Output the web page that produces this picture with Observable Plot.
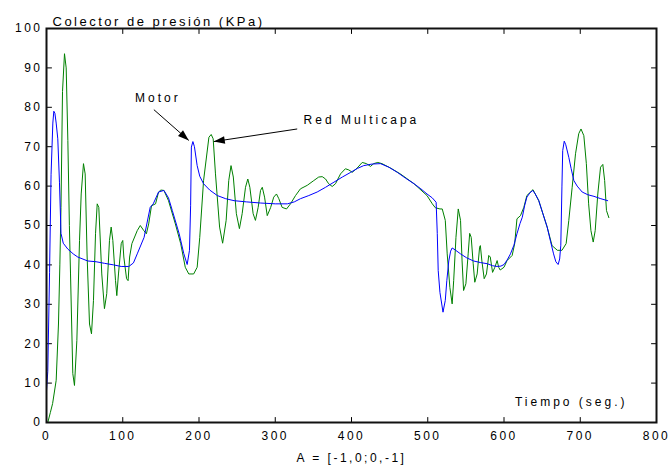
<!DOCTYPE html>
<html>
<head>
<meta charset="utf-8">
<script src="https://cdn.jsdelivr.net/npm/d3@7"></script>
<script src="https://cdn.jsdelivr.net/npm/@observablehq/plot@0.6"></script>
<style>
  html, body { margin: 0; padding: 0; background: #fff; }
</style>
</head>
<body>
<div id="chart"></div>
<script>
// ---- data ----
const motorT = [0,1.7,4,6,8.3,9.6,11,12.7,14.8,17,19,22,28,35,41,54,65,76,88,98,108,114,119,128,136,140,147,154,160,165,174,180,184.5,187.5,189,190,192,194,197.6,201,206,214,224,235,246,262,281,300,316,325,333,344,355,366,377,388,399,408,416,427,438,449,460,471,482,491,499,506,511,512.5,513.7,516,520,523,525,527.6,530,532,536,543,551,560,569,578,585,591,596,600,604,608.5,613,617,621,624,627,630,634,637.8,641,645.6,651,656.6,661,665,668,671,673,674.5,676,677,679,681,685,688,691.6,696,702.5,710,718,727,736];
const motorV = [8,13,38,63,76,79,78.5,76,72,61,48,45.5,44,42.8,42,41,40.8,40.4,40,39.6,39.6,40.5,42.8,47,54.6,55.5,58.5,58.9,57,53.8,47.9,42.9,40.1,43.7,55,69.9,71.3,70,65.2,62.5,60.6,59,57.6,56.8,56.3,56,55.7,55.5,55.5,56,56.8,57.6,58.5,59.7,61,62.3,63.5,64.5,65.2,65.6,65.7,64.8,63.5,62,60.6,59.3,58,57,55.9,48,38.6,33,28,31,36,41,43.5,44.3,43.8,42.8,41.8,41,40.6,40.3,39.8,39.6,39.7,40.1,41.2,42.8,45,47.9,50.5,52.1,55,57.2,58.3,58.9,58,56.3,53,49.6,46,42.8,40.8,40.1,41.5,45,60,69,71.4,70.5,67.3,64.5,61.4,60,58.5,57.8,57.4,56.8,56.3];

const redT = [1.7,5,8,12.7,15.7,17.5,19,21,23.6,25.8,28,30,31.5,34.5,36.7,39.8,43.3,45.5,48.5,50.7,53.3,56.4,59,61.6,64.3,66.5,68.6,72.5,76,79,82.6,84.8,87,90.5,92.2,94.4,98,100,101.4,105,107,109,112,119,123,127.6,131,134,137.7,143,147,150,154,160,169,176,182,186.6,193,197.6,201,206,213,216,218.6,221.6,227,231,235.6,239,242,245,249,253,256.6,261,264,266.7,271,274,277.6,280.7,283,286,289.5,294,298,301.6,304.7,309,314.8,320,326.6,333,342,350.5,357,361.6,366,370,374.7,379,385.6,392,396.5,401,407.5,414,419.7,425,429,434.5,440,451,464,482,499,506,510,516,519,523,525.5,529,532,534,537,540,543,545,547,550,553,555,557,559.6,561.7,564.8,568,569,571,574,577,580,582,585,588,591,593,595,600,604,610.7,614,617,621.6,626,630,638,645.6,656.6,663,670,676,681.5,685,689.4,693.8,698,701,704.7,708,711,714,717,719.6,723,726.6,729.6,732,734.4,737.5];
const redV = [0,2.5,4.8,10.7,25,40,54.6,84,93.6,90,71.6,50,37.7,12.4,9.4,20.8,46.2,58,65.7,63.1,42,25,22.5,31,47.9,55.5,54.6,37.7,28.9,32.7,46.2,49.6,46.2,36,32.2,37.7,45.4,46.2,42,36.5,36,42,45.4,48.7,50,48.7,47.9,50.4,55,55.5,58.5,59,58.9,56.3,50.4,45.4,39.4,37.7,37.7,39.4,47,61.4,72.4,73.1,72,63.1,49.6,45.5,51.3,61.4,65.2,62.3,53,49.2,53,59.7,61.8,59.7,53,51.3,54.6,58.9,59.7,57.2,52.5,54.6,57.2,58,56.8,54.6,54.2,55.5,57.6,59.3,60.2,61.4,62.3,62.4,61.8,60.6,59.9,60.6,63.1,64.4,64.1,63.5,64.6,66,65.7,65,65.7,66,65.7,64.6,63.1,60.6,57.6,55.5,54.5,54.2,54.2,51.3,42.8,34.3,30.1,36,47,54.2,51.3,41,33.5,35.2,42.8,48,47,40.3,35.6,37.7,44.5,44.9,41,36.5,37.7,42.4,42,38.1,39.4,41.1,39.4,38.7,39.4,41.1,42.4,45.4,51.7,52.5,54.6,57.6,59.1,56.3,49.6,44.9,43.7,43.7,45.4,51.3,59.7,68.2,73.3,74.5,72.8,65.7,55.5,48.7,45.8,48.7,58,64.8,65.5,61.4,53.8,52];

const xTicks = [0,100,200,300,400,500,600,700,800];
const yTicks = [0,10,20,30,40,50,60,70,80,90,100];

const titleText = "Colector de presión (KPa)";
const xLabelText = "Tiempo (seg.)";
const captionText = "A = [-1,0;0,-1]";

const annLabels = ["Motor", "Red Multicapa"];
const annX = [146, 413];
const annY = [82.2, 76.8];
const arrowX1 = [140.8, 328.8];
const arrowY1 = [79.4, 74.5];
const arrowX2 = [186.6, 219.4];
const arrowY2 = [71.6, 71.3];

// ---- tables ----
const motor = motorT.map((t, i) => ({t, v: motorV[i]}));
const red = redT.map((t, i) => ({t, v: redV[i]}));
const ann = annLabels.map((label, i) => ({label, x: annX[i], y: annY[i]}));
const arrows = arrowX1.map((x1, i) => ({x1, y1: arrowY1[i], x2: arrowX2[i], y2: arrowY2[i]}));
const headAngles = [131.3, -98.7];

const [xMin, xMax] = [xTicks[0], xTicks[xTicks.length - 1]];
const [yMin, yMax] = [yTicks[0], yTicks[yTicks.length - 1]];

// a straight tick shape for Plot.vector (inward ticks)
const tickShape = {draw(context, l) { context.moveTo(0, 0); context.lineTo(0, -l); }};
const tickStyle = {shape: tickShape, length: 5, anchor: "start", stroke: "#000", strokeWidth: 1};

const font = "'Liberation Sans', Arial, Helvetica, sans-serif";

const chart = Plot.plot({
  width: 671,
  height: 474,
  marginLeft: 46,
  marginRight: 15,
  marginTop: 28,
  marginBottom: 52,
  style: {fontFamily: font, fontSize: "12px", letterSpacing: "2.5px", color: "#000", background: "#fff"},
  x: {domain: [xMin, xMax]},
  y: {domain: [yMin, yMax]},
  marks: [
    // tick labels
    Plot.axisY({ticks: yTicks, tickSize: 0, tickPadding: 4, tickFormat: d => String(d), fill: "#000"}),
    Plot.axisX({ticks: xTicks, tickSize: 0, tickPadding: 9, tickFormat: d => String(d), fill: "#000"}),
    // inward ticks on all four sides
    Plot.vector(xTicks, {x: d => d, y: yMin, rotate: 0, ...tickStyle}),
    Plot.vector(xTicks, {x: d => d, y: yMax, rotate: 180, ...tickStyle}),
    Plot.vector(yTicks, {x: xMin, y: d => d, rotate: 90, ...tickStyle}),
    Plot.vector(yTicks, {x: xMax, y: d => d, rotate: -90, ...tickStyle}),
    // series
    Plot.line(red, {x: "t", y: "v", stroke: "#008000", strokeWidth: 1}),
    Plot.line(motor, {x: "t", y: "v", stroke: "#0000ff", strokeWidth: 1}),
    // frame
    Plot.frame({stroke: "#111", strokeWidth: 2}),
    // annotations
    Plot.link(arrows, {x1: "x1", y1: "y1", x2: "x2", y2: "y2", stroke: "#000", strokeWidth: 1}),
    Plot.vector(arrows, {x: "x2", y: "y2", rotate: (d, i) => headAngles[i], length: 11, r: 3.8, shape: "spike", anchor: "end", fill: "#000", stroke: "none"}),
    Plot.text(ann, {x: "x", y: "y", text: "label", fontSize: 12, fill: "#000", textAnchor: "middle"}),
    Plot.text([xLabelText], {frameAnchor: "bottom-right", dx: -29, dy: -17, textAnchor: "end", fontSize: 12, fill: "#000"}),
    Plot.text([titleText], {frameAnchor: "top-left", dx: 6, dy: -12, textAnchor: "start", fontSize: 13, fill: "#000"}),
    Plot.text([captionText], {frameAnchor: "bottom", dy: 39, fontSize: 12, fill: "#000"})
  ]
});
// slightly wider letter spacing for the in-plot annotations
const wide = new Set([...annLabels, xLabelText]);
d3.select(chart).selectAll("text").filter(function() { return wide.has(this.textContent); }).style("letter-spacing", "3px");
document.getElementById("chart").appendChild(chart);
</script>
</body>
</html>
